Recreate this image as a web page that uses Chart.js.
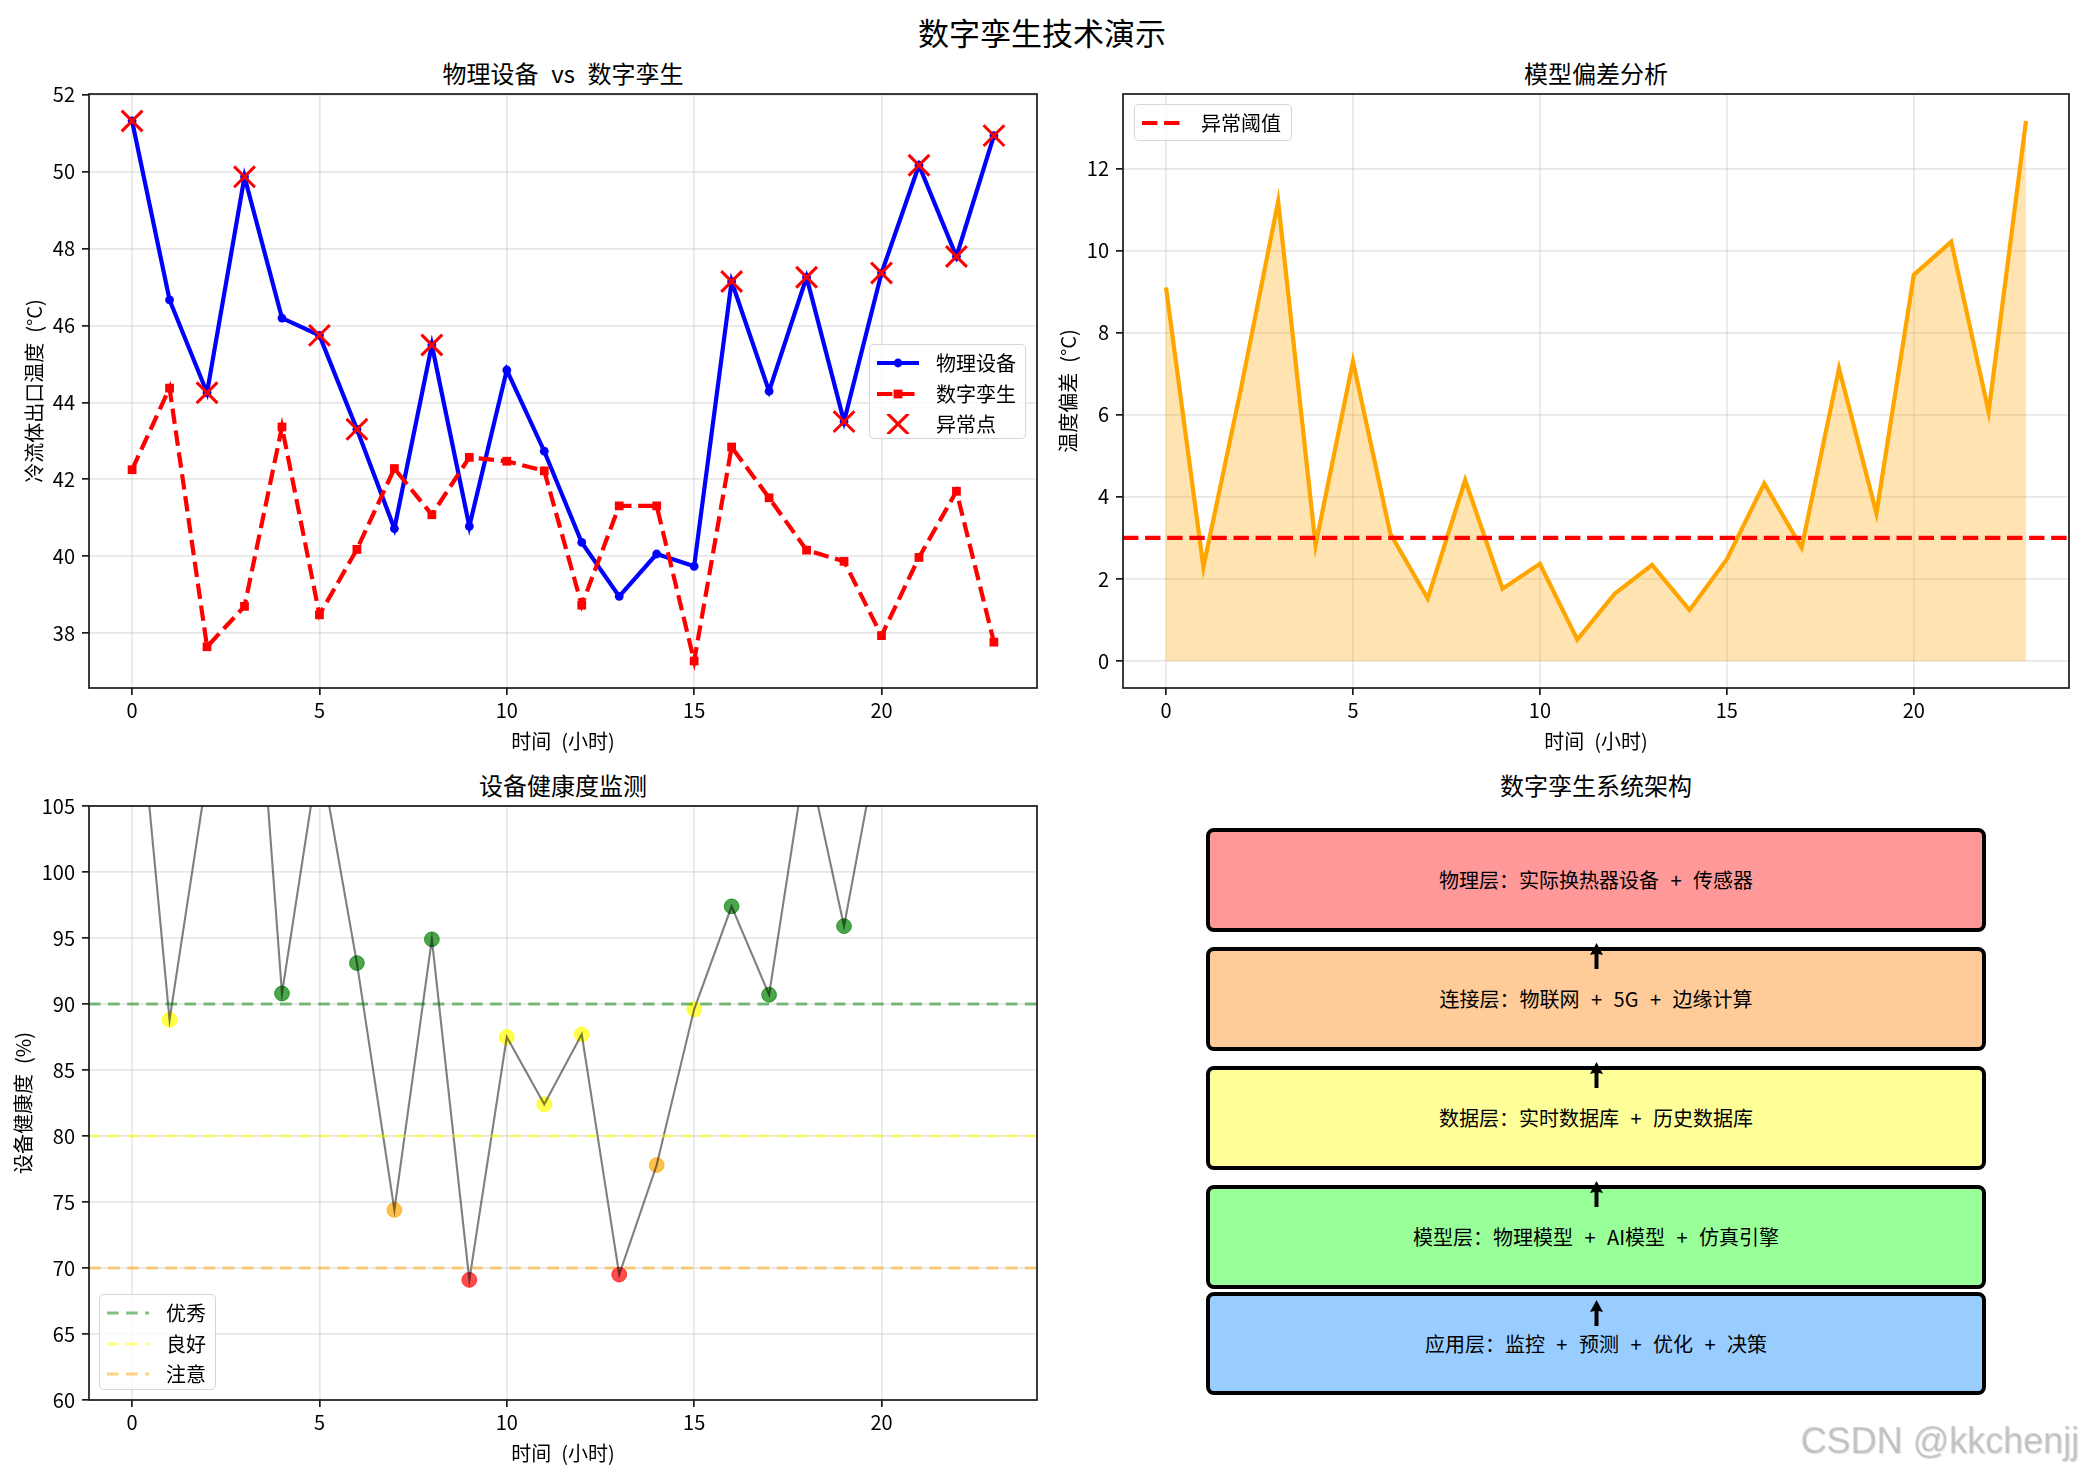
<!DOCTYPE html>
<html>
<head>
<meta charset="utf-8">
<script src="https://cdn.jsdelivr.net/npm/chart.js@4.4.0/dist/chart.umd.min.js"></script>
<style>
  body { margin: 0; background: #fff; }
  #page { position: relative; width: 2085px; height: 1476px; overflow: hidden; background: #fff;
          font-family: "Noto Sans CJK SC", "Noto Sans", sans-serif; color: #000; }
  canvas { position: absolute; }
  .ttl { position: absolute; transform: translate(-50%, -50%); white-space: nowrap; font-size: 24px; line-height: 1; word-spacing: 0.3em; }
  .legend { position: absolute; box-sizing: border-box; border: 1.7px solid rgba(204,204,204,0.8);
            border-radius: 5px; background: rgba(255,255,255,0.8); font-size: 20px; }
  .legend .row { position: absolute; left: 0; height: 30px; display: flex; align-items: center; }
  .legend svg { position: absolute; left: 6px; top: 5px; }
  .legend span { position: absolute; left: 66px; top: 50%; transform: translateY(-50%); white-space: nowrap; line-height: 1; }
  .layer { position: absolute; box-sizing: border-box; border: 4.2px solid #000; border-radius: 8px;
           display: flex; align-items: center; justify-content: center; font-size: 20px; white-space: nowrap;
           word-spacing: 0.35em; }
  #mark { position: absolute; right: 6px; top: 1420px; font-family: "Liberation Sans", sans-serif; font-size: 36px;
          color: rgba(170,170,170,0.55); text-shadow: 1px 1px 1px rgba(120,120,120,0.25); }
</style>
</head>
<body>
<div id="page"></div>
<script>
// ---- data ----
var hours = [0,1,2,3,4,5,6,7,8,9,10,11,12,13,14,15,16,17,18,19,20,21,22,23];
var physical = [51.31,46.66,44.25,49.86,46.19,45.74,43.30,40.72,45.49,40.78,44.84,42.73,
                40.36,38.96,40.06,39.74,47.14,44.29,47.25,43.50,47.36,50.16,47.79,50.93];
var twin = [42.25,44.37,37.65,38.70,43.36,38.48,40.18,42.28,41.08,42.57,42.47,42.22,
            38.73,41.31,41.31,37.28,42.84,41.52,40.16,39.87,37.94,39.97,41.69,37.77];
var anomalyHours = [0,2,3,5,6,8,16,18,19,20,21,22,23];
var deviation = [9.10,2.29,6.62,11.20,2.82,7.30,3.10,1.52,4.41,1.76,2.37,0.52,
                 1.64,2.34,1.24,2.48,4.33,2.76,7.13,3.60,9.41,10.22,6.07,13.16];
var threshold = 3;
var health = [118.8,88.8,107.4,129.1,90.8,109.2,93.1,74.4,94.9,69.1,87.5,82.4,
              87.7,69.5,77.8,89.6,97.4,90.7,109.0,95.9,111.1,113.0,108.0,116.0];
var healthLevels = [90, 80, 70];
var healthLevelNames = ['优秀', '良好', '注意'];
var seriesNames = ['物理设备', '数字孪生', '异常点'];
var thresholdName = '异常阈值';
var xTicks = [0, 5, 10, 15, 20];
var tempTicks = [38, 40, 42, 44, 46, 48, 50, 52];
var devTicks = [0, 2, 4, 6, 8, 10, 12];
var healthTicks = [60, 65, 70, 75, 80, 85, 90, 95, 100, 105];
var layerNames = ['物理层：实际换热器设备 + 传感器', '连接层：物联网 + 5G + 边缘计算',
                  '数据层：实时数据库 + 历史数据库', '模型层：物理模型 + AI模型 + 仿真引擎',
                  '应用层：监控 + 预测 + 优化 + 决策'];

// ---- styles ----
var layerColors = ['#ff9999', '#ffcc99', '#ffff99', '#99ff99', '#99ccff'];
var levelColors = ['rgba(0,128,0,0.5)', 'rgba(255,255,0,0.5)', 'rgba(255,165,0,0.5)'];
var INK = '#1a1a1a';

Chart.defaults.font.family = '"Noto Sans CJK SC", "Noto Sans", sans-serif';
Chart.defaults.color = '#000';

var page = document.getElementById('page');

function pts(xs, ys) {
  return xs.map(function (x, i) { return {x: x, y: ys[i]}; });
}

// matplotlib-like margins (5%)
var xSpan = hours[hours.length - 1] - hours[0];
var xMin = hours[0] - 0.05 * xSpan, xMax = hours[hours.length - 1] + 0.05 * xSpan;
function padRange(arrs) {
  var all = [].concat.apply([], arrs);
  var lo = Math.min.apply(null, all), hi = Math.max.apply(null, all);
  return [lo - 0.05 * (hi - lo), hi + 0.05 * (hi - lo)];
}

var gridOpts = {color: 'rgba(176,176,176,0.3)', lineWidth: 1.7, tickLength: 7, tickColor: INK, tickWidth: 1.7};

function xAxis() {
  return {
    type: 'linear', min: xMin, max: xMax,
    afterBuildTicks: function (s) { s.ticks = xTicks.map(function (v) { return {value: v}; }); },
    afterFit: function (s) { s.height = 72; },
    grid: gridOpts, border: {display: false},
    ticks: {font: {size: 20}, color: '#000', padding: 3, autoSkip: false, maxRotation: 0},
    title: {display: true, text: '时间\u2002(小时)', font: {size: 20}, color: '#000', padding: {top: 0, bottom: 7}}
  };
}
function yAxis(range, ticks, label, width, titlePad) {
  return {
    type: 'linear', min: range[0], max: range[1],
    afterBuildTicks: function (s) { s.ticks = ticks.map(function (v) { return {value: v}; }); },
    afterFit: function (s) { s.width = width; },
    grid: gridOpts, border: {display: false},
    ticks: {font: {size: 20}, color: '#000', padding: 7, autoSkip: false},
    title: {display: true, text: label, font: {size: 20}, color: '#000', padding: {top: titlePad, bottom: 0}}
  };
}

var framePlugin = {
  id: 'frame',
  afterDraw: function (chart) {
    var a = chart.chartArea, ctx = chart.ctx;
    ctx.save();
    ctx.strokeStyle = INK; ctx.lineWidth = 1.7;
    ctx.strokeRect(a.left, a.top, a.right - a.left, a.bottom - a.top);
    ctx.restore();
  }
};
function hlines(lines) {
  return {
    id: 'hlines',
    afterDatasetsDraw: function (chart) {
      var a = chart.chartArea, ctx = chart.ctx, y = chart.scales.y;
      ctx.save();
      ctx.beginPath(); ctx.rect(a.left, a.top, a.right - a.left, a.bottom - a.top); ctx.clip();
      lines.forEach(function (l) {
        var py = y.getPixelForValue(l.value);
        ctx.strokeStyle = l.color; ctx.lineWidth = l.width; ctx.setLineDash(l.dash);
        ctx.beginPath(); ctx.moveTo(a.left, py); ctx.lineTo(a.right, py); ctx.stroke();
      });
      ctx.restore();
    }
  };
}

function makeChart(left, top, w, h, config) {
  var c = document.createElement('canvas');
  c.width = w; c.height = h;
  c.style.left = left + 'px'; c.style.top = top + 'px';
  c.style.width = w + 'px'; c.style.height = h + 'px';
  page.appendChild(c);
  config.options.responsive = false;
  config.options.devicePixelRatio = 1;
  config.options.animation = false;
  config.options.plugins = {legend: {display: false}, tooltip: {enabled: false}};
  return new Chart(c, config);
}

function text(cls, x, y, str, extra) {
  var d = document.createElement('div');
  d.className = cls; d.textContent = str;
  d.style.left = x + 'px'; d.style.top = y + 'px';
  if (extra) for (var k in extra) d.style[k] = extra[k];
  page.appendChild(d);
  return d;
}

function legend(left, top, w, h, items) {
  var box = document.createElement('div');
  box.className = 'legend';
  box.style.left = left + 'px'; box.style.top = top + 'px';
  box.style.width = w + 'px'; box.style.height = h + 'px';
  items.forEach(function (it, i) {
    var row = document.createElement('div');
    row.className = 'row';
    row.style.top = (3 + i * 30.5) + 'px';
    row.style.width = w + 'px';
    row.innerHTML = '<svg width="44" height="20" viewBox="0 0 44 20">' + it.sample + '</svg><span>' + it.label + '</span>';
    box.appendChild(row);
  });
  page.appendChild(box);
}

// ---- titles ----
text('ttl', 1042, 31, '数字孪生技术演示', {fontSize: '31px'});
text('ttl', 563, 73, '物理设备 vs 数字孪生');
text('ttl', 1596, 73, '模型偏差分析');
text('ttl', 563, 785, '设备健康度监测');
text('ttl', 1596, 785, '数字孪生系统架构');

// ---- chart 1: physical vs twin ----
var tempRange = padRange([physical, twin]);
makeChart(0, 0, 1060, 760, {
  type: 'line',
  data: {datasets: [
    {label: seriesNames[0], data: pts(hours, physical), borderColor: 'blue', backgroundColor: 'blue',
     borderWidth: 4.2, pointRadius: 4.4, pointBorderWidth: 0, order: 2},
    {label: seriesNames[1], data: pts(hours, twin), borderColor: 'red', backgroundColor: 'red',
     borderWidth: 4.2, borderDash: [15.4, 6.7], pointStyle: 'rect', pointRadius: 6.2, pointBorderWidth: 0, order: 1},
    {label: seriesNames[2], data: anomalyHours.map(function (hh) { return {x: hh, y: physical[hh]}; }),
     showLine: false, borderColor: 'red', backgroundColor: 'red', pointStyle: 'crossRot',
     pointRadius: 14.7, pointBorderWidth: 3, order: 0}
  ]},
  options: {
    layout: {padding: {top: 94, right: 23, left: 0, bottom: 0}},
    scales: {x: xAxis(), y: yAxis(tempRange, tempTicks, '冷流体出口温度\u2002(°C)', 89, 22)}
  },
  plugins: [framePlugin]
});
legend(869, 344, 157, 95, [
  {label: seriesNames[0], sample: '<line x1="1" y1="10" x2="43" y2="10" stroke="blue" stroke-width="4.2"/><circle cx="22" cy="10" r="4.4" fill="blue"/>'},
  {label: seriesNames[1], sample: '<line x1="1" y1="10" x2="43" y2="10" stroke="red" stroke-width="4.2" stroke-dasharray="15.4 6.7"/><rect x="17.6" y="5.6" width="8.8" height="8.8" fill="red"/>'},
  {label: seriesNames[2], sample: '<line x1="11.6" y1="-0.4" x2="32.4" y2="20.4" stroke="red" stroke-width="3"/><line x1="32.4" y1="-0.4" x2="11.6" y2="20.4" stroke="red" stroke-width="3"/>'}
]);

// ---- chart 2: deviation ----
var devRange = padRange([deviation, [0]]);
makeChart(1040, 0, 1045, 760, {
  type: 'line',
  data: {datasets: [
    {data: pts(hours, deviation), borderColor: 'orange', backgroundColor: 'rgba(255,165,0,0.3)',
     borderWidth: 4.2, pointRadius: 0, fill: 'origin'}
  ]},
  options: {
    layout: {padding: {top: 94, right: 16, left: 0, bottom: 0}},
    scales: {x: xAxis(), y: yAxis(devRange, devTicks, '温度偏差\u2002(°C)', 83, 16)}
  },
  plugins: [framePlugin, hlines([{value: threshold, color: 'red', width: 4.2, dash: [15.4, 6.7]}])]
});
legend(1134, 104, 158, 37, [
  {label: thresholdName, sample: '<line x1="1" y1="10" x2="43" y2="10" stroke="red" stroke-width="4.2" stroke-dasharray="15.4 6.7"/>'}
]);

// ---- chart 3: health ----
function healthColor(v) {
  if (v >= healthLevels[0]) return 'rgba(0,128,0,0.7)';
  if (v >= healthLevels[1]) return 'rgba(255,255,0,0.7)';
  if (v >= healthLevels[2]) return 'rgba(255,165,0,0.7)';
  return 'rgba(255,0,0,0.7)';
}
var hColors = health.map(healthColor);
makeChart(0, 760, 1060, 712, {
  type: 'line',
  data: {datasets: [
    {data: pts(hours, health), borderColor: 'rgba(0,0,0,0.5)', borderWidth: 2.1, pointRadius: 0, clip: 0, order: 0},
    {data: pts(hours, health), showLine: false, pointRadius: 7.4, pointBackgroundColor: hColors,
     pointBorderColor: hColors, pointBorderWidth: 1, clip: 0, order: 1}
  ]},
  options: {
    layout: {padding: {top: 46, right: 23, left: 0, bottom: 0}},
    scales: {x: xAxis(), y: yAxis([60, 105], healthTicks, '设备健康度\u2002(%)', 89, 11)}
  },
  plugins: [framePlugin, hlines(healthLevels.map(function (v, i) {
    return {value: v, color: levelColors[i], width: 3.1, dash: [11.6, 7.5]};
  }))]
});
legend(99, 1294, 117, 96, healthLevelNames.map(function (n, i) {
  return {label: n, sample: '<line x1="1" y1="10" x2="43" y2="10" stroke="' + levelColors[i] + '" stroke-width="3.1" stroke-dasharray="11.6 7.5"/>'};
}));

// ---- architecture diagram ----
var layerTop = [830.5, 949.5, 1068.5, 1187.5, 1294];
var layerH = 99, layerLeft = 1208, layerW = 776, bw = 4.2;
layerNames.forEach(function (n, i) {
  var d = document.createElement('div');
  d.className = 'layer'; d.textContent = n;
  d.style.left = (layerLeft - bw / 2) + 'px';
  d.style.top = (layerTop[i] - bw / 2) + 'px';
  d.style.width = (layerW + bw) + 'px';
  d.style.height = (layerH + bw) + 'px';
  d.style.background = layerColors[i];
  page.appendChild(d);
});
var svgNS = 'http://www.w3.org/2000/svg';
var arrows = document.createElementNS(svgNS, 'svg');
arrows.setAttribute('width', '2085'); arrows.setAttribute('height', '1476');
arrows.style.position = 'absolute'; arrows.style.left = '0'; arrows.style.top = '0';
var ax = 1596.5, tips = [943, 1062, 1181, 1300];
tips.forEach(function (t) {
  var p = document.createElementNS(svgNS, 'path');
  p.setAttribute('d', 'M' + (ax - 2) + ' ' + (t + 26) + ' L' + (ax - 2) + ' ' + (t + 11) + ' L' + (ax - 6.5) + ' ' + (t + 12) +
    ' L' + ax + ' ' + t + ' L' + (ax + 6.5) + ' ' + (t + 12) + ' L' + (ax + 2) + ' ' + (t + 11) + ' L' + (ax + 2) + ' ' + (t + 26) + ' Z');
  p.setAttribute('fill', '#000');
  arrows.appendChild(p);
});
page.appendChild(arrows);

var mark = document.createElement('div');
mark.id = 'mark'; mark.textContent = 'CSDN @kkchenjj';
page.appendChild(mark);
</script>
</body>
</html>
